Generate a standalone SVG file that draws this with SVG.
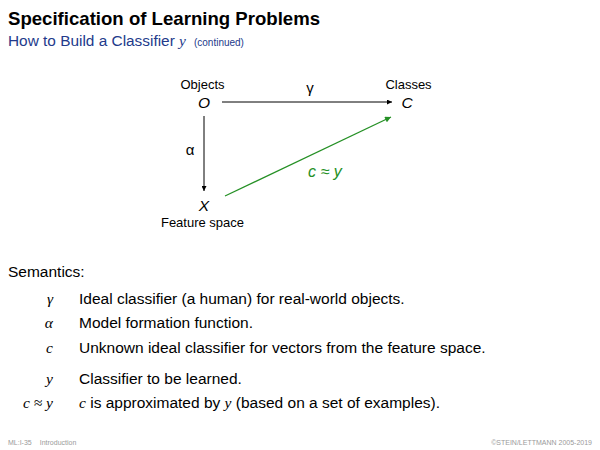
<svg xmlns="http://www.w3.org/2000/svg" width="600" height="450" viewBox="0 0 600 450">
<defs>
<style>
.sans{font-family:"Liberation Sans",Arial,sans-serif}
.math{font-family:"Liberation Serif","DejaVu Serif",serif;font-style:italic}
.title{font-size:18.6px;font-weight:bold;fill:#000}
.sub{font-size:15.4px;fill:#233a8b}
.lbl{font-size:13px;fill:#000}
.node{font-size:15.5px;font-style:italic;fill:#000}
.body{font-size:15.5px;fill:#000}
.sym{font-size:15.5px;fill:#000}
.foot{font-size:7px;fill:#9a9a9a}
.edge{stroke:#000;stroke-width:1;fill:none}
.green{stroke:#259025;stroke-width:1.3;fill:none}
</style>
<marker id="ah" viewBox="0 0 10 10" refX="10" refY="5" markerWidth="7" markerHeight="5" markerUnits="userSpaceOnUse" orient="auto">
<path d="M0,0 L10,5 L0,10 z" fill="#000"/>
</marker>
<marker id="ahg" viewBox="0 0 10 10" refX="10" refY="5" markerWidth="8" markerHeight="6" markerUnits="userSpaceOnUse" orient="auto">
<path d="M0,0 L10,5 L0,10 z" fill="#259025"/>
</marker>
</defs>
<rect width="600" height="450" fill="#fff"/>
<text class="sans title" x="8" y="25">Specification of Learning Problems</text>
<text class="sans sub" x="8" y="46">How to Build a Classifier <tspan class="math" font-size="15.4">y</tspan><tspan font-size="10" dx="8">(continued)</tspan></text>

<g id="connectors">
<line class="edge" x1="222" y1="102" x2="392" y2="102" marker-end="url(#ah)"/>
<line class="edge" x1="204" y1="116" x2="204" y2="191" marker-end="url(#ah)"/>
<line class="green" x1="225" y1="196" x2="391" y2="117" marker-end="url(#ahg)"/>
<text class="sans" x="310" y="93" font-size="15" text-anchor="middle">γ</text>
<text class="sans" x="190" y="155" font-size="15" text-anchor="middle">α</text>
<text class="sans" x="308" y="177" font-size="16" font-style="italic" fill="#259025">c ≈ y</text>
</g>

<g id="node-objects">
<text class="sans lbl" x="202.5" y="89" text-anchor="middle">Objects</text>
<text class="sans node" x="204" y="108" text-anchor="middle">O</text>
</g>
<g id="node-classes">
<text class="sans lbl" x="408.5" y="89" text-anchor="middle">Classes</text>
<text class="sans node" x="407" y="108" text-anchor="middle">C</text>
</g>
<g id="node-feature">
<text class="sans node" x="204" y="211" text-anchor="middle">X</text>
<text class="sans lbl" x="202.5" y="227" text-anchor="middle">Feature space</text>
</g>

<text class="sans body" x="8" y="277">Semantics:</text>
<g class="math sym" text-anchor="end">
<text x="53" y="304">γ</text>
<text x="53" y="328">α</text>
<text x="53" y="352.5">c</text>
<text x="53" y="384">y</text>
<text x="53" y="408">c ≈ y</text>
</g>
<g class="sans body">
<text x="79" y="304">Ideal classifier (a human) for real-world objects.</text>
<text x="79" y="328">Model formation function.</text>
<text x="79" y="352.5">Unknown ideal classifier for vectors from the feature space.</text>
<text x="79" y="384">Classifier to be learned.</text>
<text x="79" y="408"><tspan class="math">c</tspan> is approximated by <tspan class="math">y</tspan> (based on a set of examples).</text>
</g>

<text class="sans foot" x="8" y="445">ML:I-35<tspan dx="8">Introduction</tspan></text>
<text class="sans foot" x="592" y="445" text-anchor="end">©STEIN/LETTMANN 2005-2019</text>
</svg>
